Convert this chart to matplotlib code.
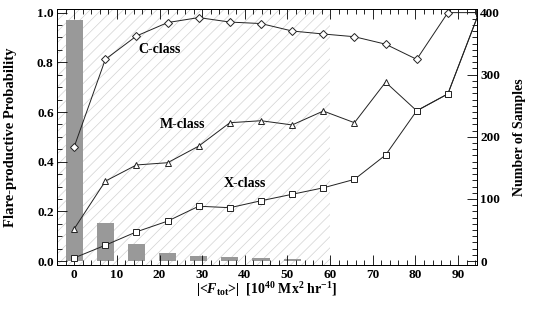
import numpy as np
import matplotlib
matplotlib.use('Agg')
import matplotlib.pyplot as plt
from matplotlib.ticker import MultipleLocator

plt.rcParams['font.family'] = ['Liberation Serif', 'DejaVu Serif']
plt.rcParams['font.weight'] = 'bold'
plt.rcParams['mathtext.fontset'] = 'custom'
plt.rcParams['mathtext.rm'] = 'Liberation Serif:bold'
plt.rcParams['mathtext.it'] = 'Liberation Serif:bold:italic'
plt.rcParams['mathtext.bf'] = 'Liberation Serif:bold'
plt.rcParams['hatch.color'] = '#d2d2d2'
plt.rcParams['hatch.linewidth'] = 0.5

# bin centres of |<F_tot>| (10^40 Mx^2 hr^-1)
flux = [0.0, 7.3, 14.6, 21.9, 29.2, 36.5, 43.8, 51.1, 58.4, 65.7, 73.0, 80.3, 87.6, 94.9]
prob_c = [0.46, 0.812, 0.906, 0.96, 0.98, 0.962, 0.956, 0.926, 0.914, 0.903, 0.873, 0.812, 1.0, 1.0]
prob_m = [0.13, 0.322, 0.387, 0.396, 0.463, 0.557, 0.565, 0.548, 0.604, 0.557, 0.72, 0.605, 0.673, 1.0]
prob_x = [0.013, 0.064, 0.118, 0.161, 0.221, 0.215, 0.243, 0.269, 0.295, 0.329, 0.427, 0.605, 0.673, 1.0]
n_samples = [388, 61, 27, 13, 8, 6, 5, 3, 1, 0, 0, 0, 0, 0]
shade_end = 60.0

fig = plt.figure(figsize=(5.34, 3.13), dpi=100)
ax = fig.add_axes([0.107, 0.153, 0.786, 0.817])
ax2 = ax.twinx()
ax.set_zorder(ax2.get_zorder() + 1)
ax.patch.set_visible(False)

# samples histogram + shaded region on the right axis
ax2.axvspan(-4, shade_end, facecolor='none', edgecolor='#d2d2d2', hatch='///', linewidth=0, zorder=0)
ax2.bar(flux, n_samples, width=4.0, color='#999999', zorder=1)
ax2.set_ylim(-6.4, 405)
ax2.set_ylabel('Number of Samples', fontsize=10, fontweight='bold', labelpad=9)
ax2.yaxis.set_major_locator(MultipleLocator(100))
ax2.yaxis.set_minor_locator(MultipleLocator(10))

kw = dict(color='#222222', lw=0.7, mfc='white', mec='#222222', mew=0.7)
ax.plot(flux, prob_c, marker='D', ms=4.5, **kw)
ax.plot(flux, prob_m, marker='^', ms=5, **kw)
ax.plot(flux, prob_x, marker='s', ms=4, **kw)

ax.set_xlim(-4, 94.4)
ax.set_ylim(-0.016, 1.013)
ax.text(19.9, 0.85, 'C-class', fontsize=10, fontweight='bold', ha='center', va='center')
ax.text(25.3, 0.548, 'M-class', fontsize=10, fontweight='bold', ha='center', va='center')
ax.text(40.0, 0.314, 'X-class', fontsize=10, fontweight='bold', ha='center', va='center')

ax.set_ylabel('Flare-productive Probability', fontsize=10.5, fontweight='bold', labelpad=14)
ax.set_xlabel(r'|<$\mathit{F}_{\rm tot}$>|  [10$^{40}$ Mx$^{2}$ hr$^{-1}$]', fontsize=10, fontweight='bold', labelpad=0)
ax.xaxis.set_major_locator(MultipleLocator(10))
ax.xaxis.set_minor_locator(MultipleLocator(2))
ax.yaxis.set_major_locator(MultipleLocator(0.2))
ax.yaxis.set_minor_locator(MultipleLocator(0.05))
ax.yaxis.set_major_formatter(plt.FormatStrFormatter('%.1f'))

ax.tick_params(axis='x', which='both', direction='in', top=True, bottom=True)
ax.tick_params(axis='y', which='both', direction='in', left=True, right=False)
ax.tick_params(which='major', length=7, width=0.6, labelsize=9.5, pad=2.5)
ax.tick_params(which='minor', length=3.5, width=0.6)
ax2.tick_params(axis='y', which='both', direction='in')
ax2.tick_params(which='major', length=7, width=0.6, labelsize=9.5, pad=2.5)
ax2.tick_params(which='minor', length=3.5, width=0.6)
for a in (ax, ax2):
    for s in a.spines.values():
        s.set_linewidth(0.7)

fig.savefig('out.png', dpi=100)
